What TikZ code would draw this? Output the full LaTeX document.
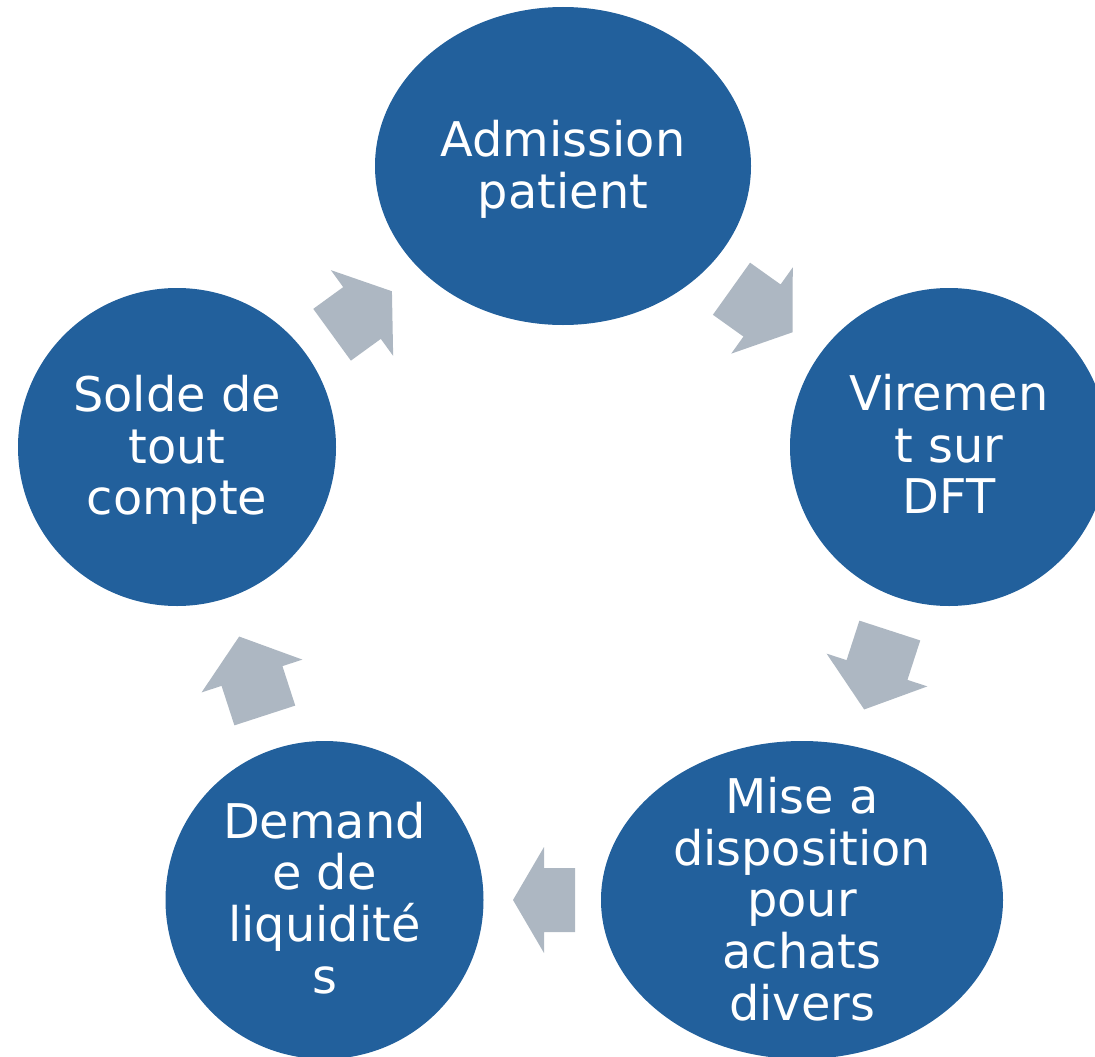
\documentclass[tikz,border=0pt]{standalone}
\usepackage{fontspec}
\setmainfont{DejaVu Sans}
\usetikzlibrary{shapes.geometric}
\definecolor{cblue}{HTML}{22609C}
\definecolor{cgray}{HTML}{ADB7C2}
\newcommand{\cycarrow}[4]{%
  \begin{scope}[shift={(#1,#2)}, rotate=#3]
    \fill[cgray] (-#4/2,-32) -- (0,-32) -- (0,-53) -- (#4/2,0) -- (0,53) -- (0,32) -- (-#4/2,32) -- cycle;
  \end{scope}}
\begin{document}
\begin{tikzpicture}[x=1pt,y=-1pt,
  blob/.style={ellipse, fill=cblue, draw=none, inner sep=0pt},
  lbl/.style={text=white, align=center, inner sep=0pt,
    font=\fontsize{47.8}{51.8}\selectfont}]
\useasboundingbox (0,0) rectangle (1095,1057);
\clip (0,0) rectangle (1095,1057);
% ellipses
\node[blob, minimum width=376, minimum height=318] (adm) at (563,166) {};
\node[blob, minimum width=318, minimum height=318] (vir) at (949,447) {};
\node[blob, minimum width=402, minimum height=318] (mise) at (802,900) {};
\node[blob, minimum width=318, minimum height=318] (dem) at (324.5,900) {};
\node[blob, minimum width=318, minimum height=318] (sol) at (177,447) {};
% labels
\node[lbl, yshift=-3pt] (admT) at (adm.center) {Admission\\patient};
\node[lbl, yshift=3pt] (virT) at (vir.center) {Viremen\\t sur\\DFT};
\node[lbl, yshift=1pt] (miseT) at (mise.center) {Mise a\\disposition\\pour\\achats\\divers};
\node[lbl, yshift=2pt] (demT) at (dem.center) {Demand\\e de\\liquidit\'e\\s};
\node[lbl, yshift=-3pt] (solT) at (sol.center) {Solde de\\tout\\compte};
% cycle arrows
\cycarrow{362}{313}{36}{74}
\cycarrow{762}{310.5}{-35.5}{75}
\cycarrow{877}{670}{-108}{83}
\cycarrow{544}{900}{180}{62}
\cycarrow{252}{676}{108}{83}
\end{tikzpicture}
\end{document}
